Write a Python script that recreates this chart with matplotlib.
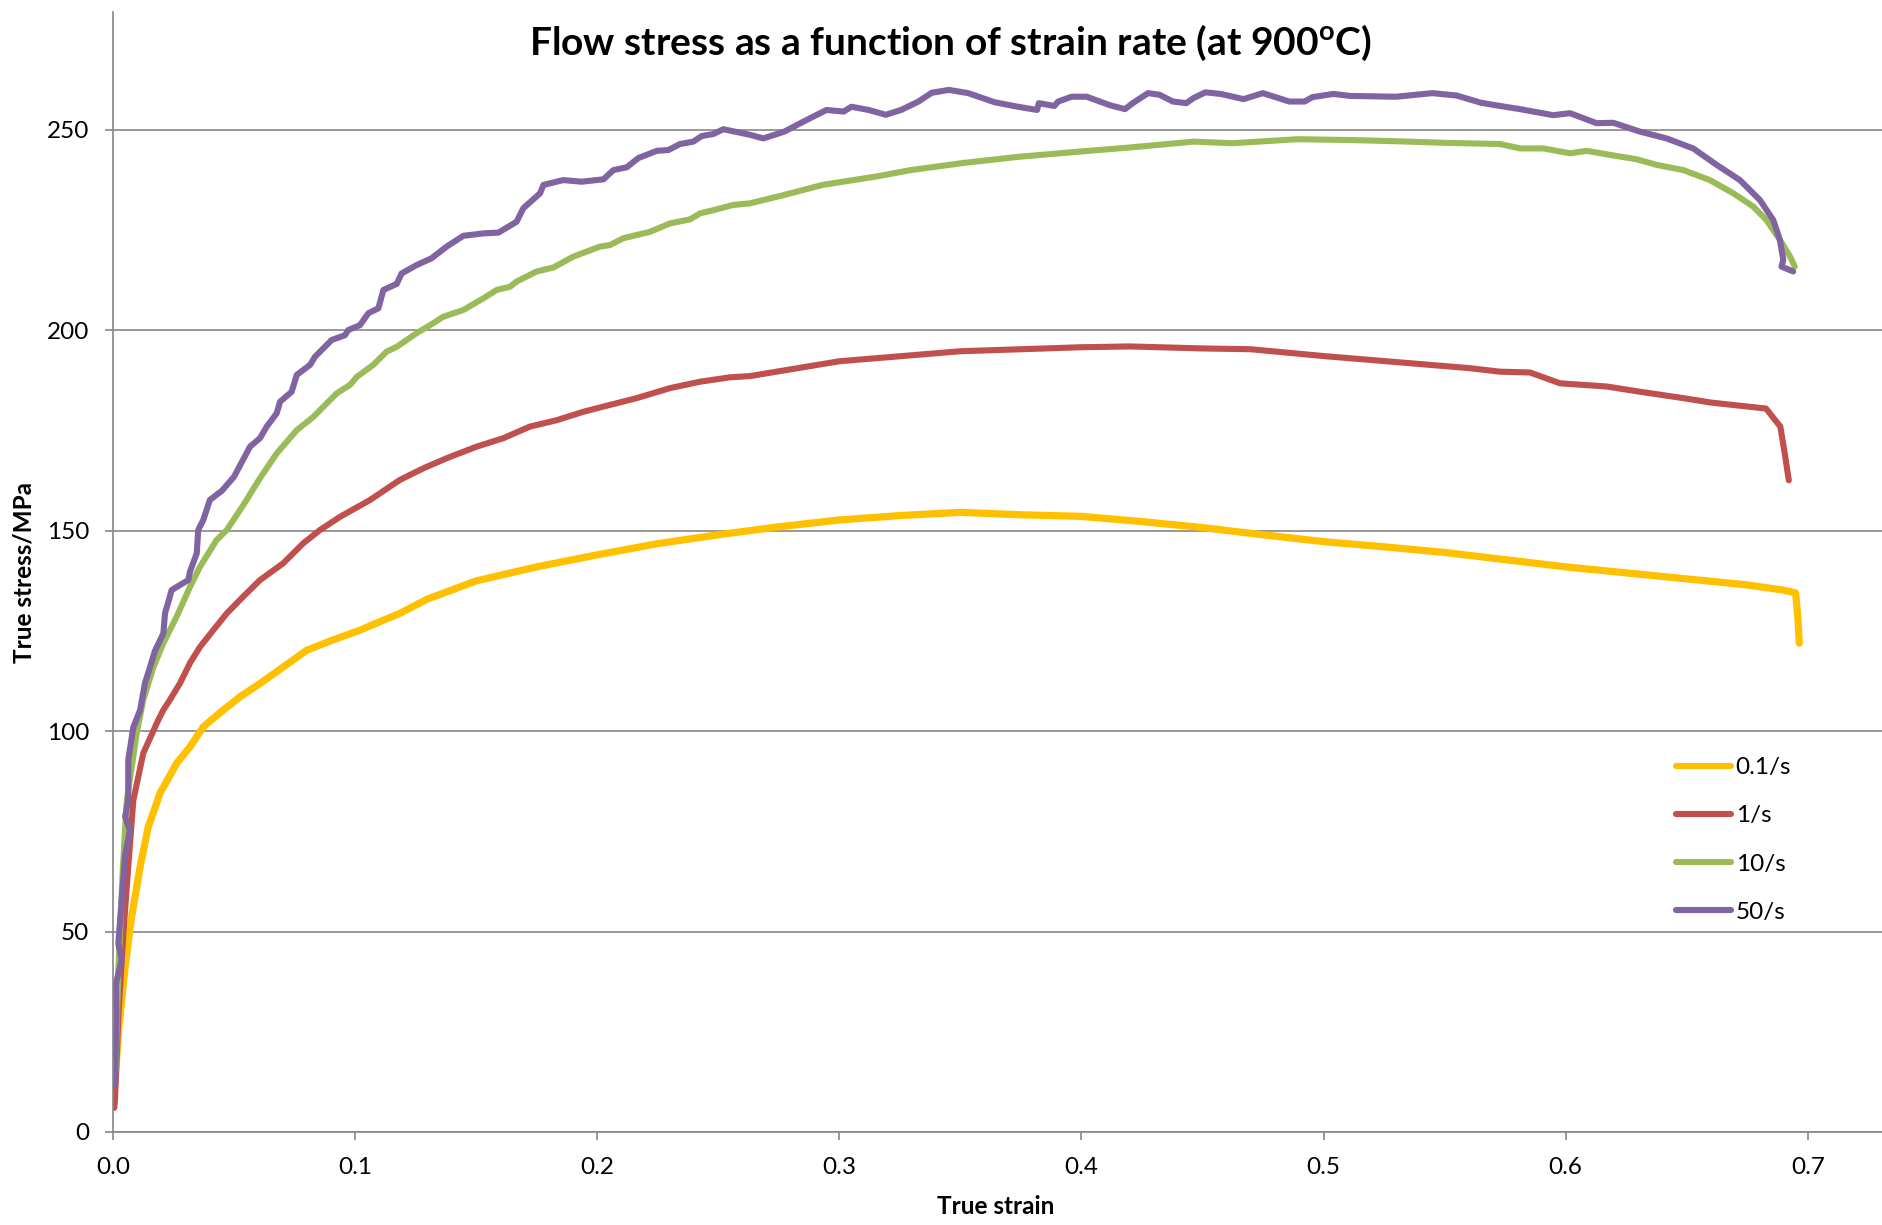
import matplotlib
matplotlib.use("Agg")
import matplotlib.pyplot as plt

plt.rcParams['font.family'] = ['Lato', 'DejaVu Sans']
plt.rcParams['mathtext.fontset'] = 'custom'
plt.rcParams['mathtext.rm'] = 'Lato'
plt.rcParams['mathtext.bf'] = 'Lato:bold'

# ---------------- data ----------------
labels = ["0.1/s", "1/s", "10/s", "50/s"]
colors = ["#FFC000", "#C0504D", "#9BBB59", "#8064A2"]

strain_01 = [0.0008, 0.0022, 0.005, 0.0077, 0.0112, 0.0146, 0.018, 0.0194, 0.0263, 0.0318,
             0.0373, 0.0456, 0.0525, 0.0607, 0.0703, 0.08, 0.091, 0.102, 0.1117, 0.1185,
             0.13, 0.15, 0.175, 0.2, 0.225, 0.25, 0.275, 0.3, 0.325, 0.35, 0.375, 0.4,
             0.425, 0.45, 0.475, 0.5, 0.525, 0.55, 0.575, 0.6, 0.625, 0.65, 0.675, 0.69,
             0.695, 0.696, 0.6965]
stress_01 = [12, 24.6, 41.2, 53.7, 66.2, 76.2, 82.0, 84.5, 92, 96.1,
             101.1, 105.3, 108.6, 111.9, 116, 120.2, 122.8, 125.2, 127.7, 129.4,
             133, 137.5, 141, 144, 146.8, 149, 151, 152.7, 153.8, 154.6, 154.0, 153.6,
             152.3, 150.8, 149, 147.3, 146, 144.6, 142.8, 141, 139.5, 138, 136.5, 135.2,
             134.5, 128, 122]

strain_1 = [0.0005, 0.0008, 0.0022, 0.0043, 0.0063, 0.0084, 0.0125, 0.0187, 0.0208, 0.0235,
            0.0277, 0.0318, 0.0359, 0.0414, 0.047, 0.0538, 0.0607, 0.0703, 0.0786, 0.0855,
            0.0938, 0.1062, 0.1185, 0.1282, 0.1378, 0.1502, 0.1612, 0.1722, 0.1833, 0.1943,
            0.2026, 0.2163, 0.2301, 0.2425, 0.2549, 0.2631, 0.3, 0.35, 0.4, 0.42,
            0.45, 0.47, 0.5, 0.53, 0.56, 0.5729, 0.5853, 0.5977, 0.617, 0.6307,
            0.6486, 0.66, 0.6828, 0.6887, 0.6907, 0.6922]
stress_1 = [6, 8, 28.8, 49.6, 66.2, 82.8, 94.5, 102.8, 105.3, 107.8,
            112, 117, 121, 125.2, 129.4, 133.6, 137.7, 141.9, 146.9, 150.2,
            153.5, 157.7, 162.7, 165.6, 168.1, 171, 173.1, 176, 177.6, 179.7,
            181, 183.1, 185.6, 187.2, 188.3, 188.6, 192.3, 194.8, 195.8, 196.0,
            195.5, 195.3, 193.6, 192.1, 190.6, 189.7, 189.5, 186.8, 186, 184.7,
            183.1, 182.0, 180.5, 176, 168.6, 162.6]

strain_10 = [0.001, 0.0022, 0.004, 0.0057, 0.0098, 0.0125, 0.0167, 0.0208, 0.0263, 0.0318,
             0.0359, 0.0428, 0.047, 0.0525, 0.0552, 0.058, 0.0607, 0.0676, 0.0759, 0.0827,
             0.0924, 0.0979, 0.1007, 0.1075, 0.113, 0.1172, 0.1254, 0.1323, 0.1364, 0.1447,
             0.153, 0.1585, 0.164, 0.1667, 0.175, 0.1819, 0.1901, 0.2011, 0.2053, 0.2108,
             0.2163, 0.2218, 0.2301, 0.2383, 0.2425, 0.248, 0.2562, 0.2631, 0.2773, 0.2931,
             0.3153, 0.3295, 0.3516, 0.3738, 0.399, 0.4212, 0.4464, 0.4623, 0.4892, 0.5109,
             0.53, 0.55, 0.5729, 0.5812, 0.5908, 0.6018, 0.6087, 0.6183, 0.6293, 0.6376,
             0.6486, 0.6596, 0.6693, 0.6775, 0.683, 0.6885, 0.6927, 0.6947]
stress_10 = [15, 40, 65, 82.8, 99.5, 107.8, 116, 122, 128.6, 136,
             141, 147.7, 150.2, 155.2, 157.7, 160.5, 163.1, 169.3, 175.1, 178.4,
             184.3, 186.4, 188.4, 191.4, 194.7, 195.9, 199.3, 201.8, 203.4, 205.1,
             208, 210.1, 210.9, 212.2, 214.7, 215.7, 218.4, 220.9, 221.3, 223,
             223.8, 224.6, 226.7, 227.7, 229.2, 230, 231.3, 231.7, 233.8, 236.3,
             238.4, 240, 241.8, 243.3, 244.6, 245.7, 247.1, 246.7, 247.7, 247.5,
             247.2, 246.8, 246.5, 245.4, 245.4, 244.2, 244.8, 243.8, 242.7, 241.3,
             240, 237.5, 234.2, 230.9, 227.5, 222.6, 218.4, 215.9]

strain_50 = [0.0008, 0.0014, 0.0012, 0.0036, 0.0022, 0.0036, 0.005, 0.007, 0.005, 0.0063,
             0.0063, 0.0084, 0.0112, 0.0132, 0.0153, 0.0173, 0.0208, 0.0215, 0.0235, 0.0242,
             0.0277, 0.0311, 0.0318, 0.0346, 0.0352, 0.0373, 0.04, 0.045, 0.05, 0.0566,
             0.0607, 0.0635, 0.0676, 0.069, 0.0738, 0.0759, 0.0814, 0.0834, 0.0903, 0.0958,
             0.0972, 0.102, 0.1055, 0.1096, 0.1117, 0.1172, 0.1192, 0.1254, 0.1316, 0.1378,
             0.1447, 0.153, 0.1592, 0.1667, 0.1695, 0.1764, 0.1778, 0.186, 0.1936, 0.2026,
             0.2067, 0.2122, 0.217, 0.2246, 0.2294, 0.2342, 0.2397, 0.2432, 0.248, 0.2521,
             0.2631, 0.2686, 0.2773, 0.2852, 0.2947, 0.3018, 0.305, 0.3121, 0.3192, 0.3255,
             0.3327, 0.3382, 0.3453, 0.3532, 0.3643, 0.3738, 0.3817, 0.3824, 0.3888, 0.3904,
             0.3959, 0.4022, 0.4117, 0.418, 0.4212, 0.4275, 0.4322, 0.4378, 0.4433, 0.4464,
             0.4512, 0.4575, 0.467, 0.4749, 0.4859, 0.4922, 0.4954, 0.5041, 0.5109, 0.53,
             0.545, 0.555, 0.565, 0.5729, 0.5812, 0.5949, 0.6018, 0.6128, 0.6197, 0.6307,
             0.6417, 0.6527, 0.6624, 0.672, 0.6803, 0.6858, 0.6885, 0.6899, 0.6892, 0.694]
stress_50 = [12, 29, 37, 43, 47, 58, 69, 75.3, 78.7, 82.8,
             92.8, 101, 105.3, 112, 116, 120, 124.4, 129.5, 133.6, 135.2,
             136.5, 137.7, 139.8, 144.4, 150.2, 152.7, 157.7, 160, 163.5, 171,
             173.1, 176, 179.3, 182.2, 184.7, 188.9, 191.4, 193.4, 197.6, 198.8,
             200.1, 201.3, 204.3, 205.5, 210.1, 211.6, 214.2, 216.3, 218, 220.9,
             223.6, 224.2, 224.4, 227.1, 230.5, 234.2, 236.3, 237.5, 237.1, 237.7,
             240, 240.7, 243, 244.8, 245, 246.5, 247.1, 248.5, 249, 250.2,
             248.8, 247.9, 249.6, 252.1, 255, 254.6, 255.8, 255, 253.8, 255,
             257.1, 259.3, 260, 259.2, 256.9, 255.8, 255, 256.7, 256, 257.1,
             258.3, 258.3, 256.2, 255.2, 256.7, 259.2, 258.8, 257.1, 256.7, 258,
             259.4, 259, 257.7, 259.2, 257.1, 257.1, 258.2, 259, 258.5, 258.3,
             259.2, 258.6, 256.8, 256, 255.2, 253.7, 254.2, 251.7, 251.8, 249.6,
             247.9, 245.4, 241.3, 237.5, 232.5, 227.5, 222.6, 217.6, 215.9, 214.7]

x_ticks = [0.0, 0.1, 0.2, 0.3, 0.4, 0.5, 0.6, 0.7]
x_ticklabels = ["0.0", "0.1", "0.2", "0.3", "0.4", "0.5", "0.6", "0.7"]
y_ticks = [0, 50, 100, 150, 200, 250]

series = [(strain_01, stress_01), (strain_1, stress_1), (strain_10, stress_10), (strain_50, stress_50)]

# ---------------- figure ----------------
W, H = 1882, 1225
fig = plt.figure(figsize=(W / 100, H / 100), dpi=100)
ax = fig.add_axes([113 / W, 93 / H, (W - 113) / W, (1132 - 12) / H])

grey = "#868686"
widths = [5.2, 4.4, 4.4, 4.4]
for (xs, ys), c, lab, lw in zip(series, colors, labels, widths):
    ax.plot(xs, ys, color=c, lw=lw, label=lab, solid_joinstyle='round', solid_capstyle='round')

ax.set_xlim(0, (W - 113) / 2421)
ax.set_ylim(0, 1120 / 4.008)

ax.set_xticks(x_ticks)
ax.set_xticklabels(x_ticklabels)
ax.set_yticks(y_ticks)
ax.yaxis.grid(True, color=grey, lw=1.2)
ax.set_axisbelow(True)

for s in ["top", "right"]:
    ax.spines[s].set_visible(False)
for s in ["left", "bottom"]:
    ax.spines[s].set_color(grey)
    ax.spines[s].set_linewidth(1.2)
ax.tick_params(axis='both', colors=grey, length=6, width=1.2, labelsize=17.5, labelcolor='black')
ax.tick_params(axis='y', pad=11)
ax.tick_params(axis='x', pad=12)

fig.text(950 / W, 1 - 43 / H, r"Flow stress as a function of strain rate (at 900$^{\mathbf{o}}$C)",
         ha='center', va='center', fontsize=28, fontweight='bold')
fig.text(24 / W, 1 - 572 / H, "True stress/MPa", rotation=90, ha='center', va='center',
         fontsize=17.5, fontweight='bold')
fig.text(996 / W, 1 - 1207 / H, "True strain", ha='center', va='center',
         fontsize=17.5, fontweight='bold')

leg = ax.legend(loc='center left', bbox_to_anchor=(1676 / W, 1 - 840 / H),
                bbox_transform=fig.transFigure, frameon=False, fontsize=17.5,
                handlelength=2.25, handletextpad=0.2, labelspacing=1.12,
                borderpad=0, borderaxespad=0)
for h in leg.get_lines():
    h.set_linewidth(4.4)

fig.savefig("out.png", dpi=100)
